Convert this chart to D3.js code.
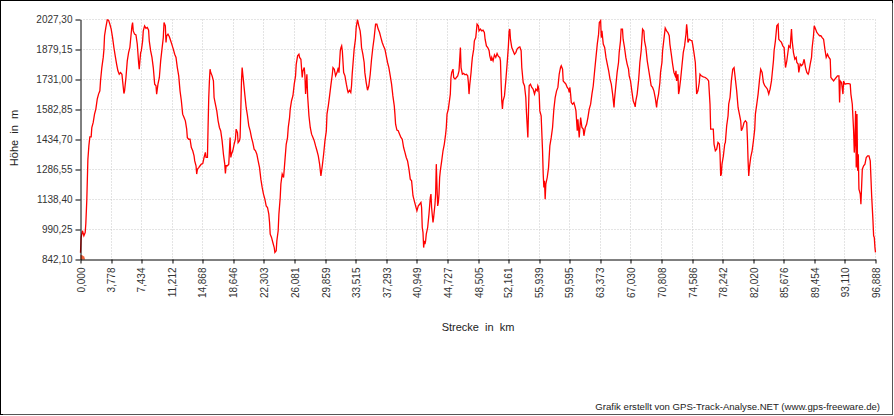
<!DOCTYPE html>
<html><head><meta charset="utf-8">
<script src="https://cdn.jsdelivr.net/npm/d3@7"></script>
<style>
html,body{margin:0;padding:0;background:#fff;}
svg{display:block;font-family:"Liberation Sans",Arial,sans-serif;}
</style></head>
<body><svg id="c" width="894" height="416"></svg>
<script>
// Elevation profile: [distance in km, elevation in m]
const profile = [
[0.00,875],[0.08,951],[0.24,984],[0.41,959],[0.57,975],[0.65,1020],[0.77,1138],[0.90,1336],[1.02,1403],[1.14,1448],[1.30,1448],[1.38,1494],[1.55,1519],[1.71,1560],[1.87,1585],[2.04,1634],[2.20,1659],[2.36,1675],[2.44,1724],[2.60,1790],[2.77,1840],[2.85,1876],[2.93,1947],[3.09,1988],[3.26,2026],[3.42,2024],[3.58,2004],[3.74,1980],[3.91,1938],[4.07,1889],[4.23,1848],[4.40,1807],[4.56,1774],[4.72,1757],[4.88,1765],[5.05,1757],[5.13,1724],[5.29,1662],[5.37,1675],[5.54,1741],[5.70,1823],[5.86,1864],[6.02,1889],[6.11,1930],[6.27,1996],[6.35,2012],[6.43,1971],[6.59,1955],[6.76,1951],[6.92,1905],[7.08,1815],[7.16,1782],[7.24,1823],[7.33,1864],[7.41,1872],[7.57,1922],[7.65,1971],[7.81,1996],[7.98,1984],[8.14,1988],[8.30,1975],[8.38,1922],[8.55,1872],[8.71,1840],[8.87,1790],[9.04,1708],[9.20,1700],[9.28,1659],[9.44,1708],[9.61,1741],[9.77,1823],[9.93,1881],[10.09,1938],[10.18,2012],[10.34,1996],[10.42,1914],[10.50,1947],[10.66,1955],[10.83,1942],[10.99,1922],[11.15,1902],[11.31,1881],[11.48,1856],[11.64,1840],[11.80,1790],[11.97,1749],[12.13,1675],[12.29,1626],[12.45,1560],[12.62,1543],[12.78,1527],[12.94,1486],[13.02,1444],[13.19,1436],[13.35,1436],[13.51,1395],[13.68,1379],[13.84,1354],[13.92,1329],[14.08,1305],[14.16,1264],[14.25,1288],[14.41,1296],[14.57,1305],[14.73,1313],[14.90,1316],[15.06,1346],[15.22,1371],[15.30,1346],[15.47,1346],[15.55,1502],[15.63,1642],[15.71,1724],[15.79,1782],[15.87,1765],[16.04,1749],[16.20,1724],[16.28,1642],[16.44,1609],[16.61,1576],[16.77,1527],[16.93,1494],[17.09,1477],[17.26,1428],[17.42,1362],[17.58,1313],[17.66,1267],[17.75,1305],[17.91,1305],[18.07,1313],[18.23,1444],[18.32,1346],[18.40,1362],[18.56,1379],[18.72,1411],[18.88,1436],[18.97,1486],[19.13,1469],[19.21,1419],[19.37,1428],[19.45,1444],[19.54,1585],[19.62,1724],[19.70,1790],[19.78,1757],[19.86,1724],[20.02,1659],[20.19,1593],[20.35,1552],[20.51,1502],[20.68,1477],[20.84,1444],[21.00,1419],[21.16,1387],[21.33,1379],[21.49,1362],[21.65,1329],[21.82,1296],[21.98,1239],[22.14,1198],[22.30,1165],[22.47,1140],[22.63,1107],[22.79,1099],[22.95,1066],[23.04,1025],[23.12,967],[23.28,951],[23.44,926],[23.61,901],[23.69,877],[23.85,885],[23.93,934],[24.09,984],[24.18,1066],[24.34,1148],[24.42,1215],[24.58,1264],[24.75,1247],[24.91,1329],[25.07,1411],[25.23,1444],[25.32,1494],[25.48,1543],[25.56,1585],[25.72,1626],[25.89,1651],[26.05,1708],[26.21,1749],[26.29,1806],[26.46,1848],[26.62,1856],[26.70,1840],[26.86,1831],[27.02,1741],[27.11,1774],[27.27,1790],[27.35,1749],[27.43,1659],[27.59,1757],[27.68,1651],[27.84,1552],[28.00,1494],[28.16,1461],[28.33,1444],[28.49,1428],[28.65,1403],[28.82,1379],[28.98,1354],[29.14,1313],[29.30,1255],[29.47,1305],[29.63,1362],[29.79,1428],[29.96,1477],[30.04,1560],[30.20,1601],[30.36,1651],[30.53,1708],[30.69,1757],[30.77,1790],[30.93,1782],[31.09,1749],[31.26,1765],[31.42,1790],[31.50,1765],[31.66,1872],[31.75,1889],[31.83,1897],[31.91,1872],[32.07,1765],[32.23,1749],[32.40,1708],[32.56,1675],
[32.62,1667],[32.78,1678],[32.94,1667],[33.03,1700],[33.11,1757],[33.27,1840],[33.35,1881],[33.51,1930],[33.60,1988],[33.76,2027],[33.92,1996],[34.08,1971],[34.17,1938],[34.25,1889],[34.41,1856],[34.57,1815],[34.65,1766],[34.82,1716],[34.98,1678],[35.14,1700],[35.31,1757],[35.47,1831],[35.63,1889],[35.79,1938],[35.96,2004],[36.12,2004],[36.28,1980],[36.45,1963],[36.61,1938],[36.77,1914],[36.93,1897],[37.10,1881],[37.26,1848],[37.42,1815],[37.58,1790],[37.75,1749],[37.91,1708],[38.07,1650],[38.24,1601],[38.32,1560],[38.40,1510],[38.56,1481],[38.72,1478],[38.89,1461],[39.05,1445],[39.21,1436],[39.38,1395],[39.54,1371],[39.70,1346],[39.86,1329],[40.03,1288],[40.19,1239],[40.35,1231],[40.52,1157],[40.68,1132],[40.84,1107],[41.00,1083],[41.17,1107],[41.33,1115],[41.49,1124],[41.57,1099],[41.65,1000],[41.74,976],[41.82,901],[41.90,934],[41.98,918],[42.06,934],[42.14,967],[42.31,1000],[42.47,1066],[42.55,1107],[42.63,1148],[42.71,1165],[42.79,1099],[42.88,1058],[42.96,1025],[43.04,1050],[43.20,1115],[43.28,1165],[43.36,1313],[43.45,1198],[43.53,1107],[43.61,1124],[43.69,1165],[43.77,1247],[43.85,1280],[44.02,1329],[44.18,1379],[44.34,1412],[44.50,1461],[44.58,1494],[44.67,1560],[44.83,1585],[44.91,1609],[45.07,1659],[45.15,1741],[45.24,1766],[45.40,1782],[45.48,1741],[45.64,1733],[45.81,1741],[45.97,1749],[46.13,1774],[46.30,1889],[46.38,1790],[46.54,1757],[46.70,1761],[46.86,1754],[47.03,1757],[47.19,1749],[47.27,1716],[47.35,1659],[47.43,1700],[47.60,1766],[47.68,1807],[47.76,1840],[47.92,1881],[48.00,1922],[48.17,1938],[48.33,2004],[48.49,1996],[48.57,1971],[48.74,1980],[48.90,1971],[49.06,1975],[49.22,1963],[49.31,1930],[49.47,1897],[49.63,1889],[49.80,1873],[49.88,1848],[50.04,1823],[50.12,1840],[50.28,1823],[50.45,1853],[50.61,1840],[50.77,1859],[50.93,1845],[51.10,1840],[51.18,1823],[51.26,1716],[51.34,1626],[51.42,1585],[51.50,1626],[51.67,1650],[51.83,1724],[51.99,1807],[52.15,1897],[52.24,1971],[52.32,1980],[52.40,1930],[52.56,1889],[52.72,1873],[52.89,1856],[53.05,1864],[53.21,1881],[53.38,1889],[53.54,1892],[53.70,1873],[53.78,1790],[53.95,1716],[54.11,1700],[54.27,1642],[54.35,1568],[54.43,1510],[54.52,1445],[54.60,1576],[54.68,1700],[54.84,1708],[55.00,1692],[55.17,1683],[55.33,1659],[55.49,1683],[55.66,1675],[55.74,1700],[55.82,1692],[55.90,1659],[55.98,1576],[56.14,1552],[56.31,1379],[56.39,1264],[56.47,1198],[56.55,1231],[56.63,1140],[56.71,1214],[56.88,1247],[57.04,1296],[57.20,1403],[57.37,1445],[57.53,1494],[57.69,1585],[57.85,1642],[58.02,1675],[58.18,1692],[58.34,1757],[58.50,1790],[58.59,1799],[58.75,1782],[58.83,1724],[58.99,1716],[59.16,1708],[59.32,1692],[59.48,1683],[59.56,1667],[59.64,1692],[59.73,1659],[59.81,1617],[59.97,1609],[60.13,1617],[60.29,1593],[60.38,1576],[60.54,1478],[60.62,1535],[60.78,1445],[60.95,1543],[61.11,1494],[61.27,1486],[61.35,1453],[61.52,1494],[61.68,1510],[61.84,1543],[62.00,1585],[62.17,1609],[62.33,1659],[62.49,1700],[62.66,1774],[62.82,1840],[62.98,1906],[63.14,1955],[63.23,2012],[63.39,2021],[63.47,1938],[63.55,1971],[63.71,1906],[63.88,1889],[64.04,1840],[64.20,1807],[64.37,1774],[64.53,1733],[64.69,1708],[64.85,1659],[65.02,1593],
[65.08,1634],[65.24,1700],[65.40,1766],[65.57,1815],[65.65,1864],[65.81,1922],[65.89,1980],[66.05,1980],[66.13,1930],[66.30,1889],[66.46,1840],[66.62,1807],[66.79,1782],[66.87,1749],[67.03,1724],[67.19,1675],[67.36,1626],[67.52,1609],[67.60,1596],[67.68,1626],[67.84,1659],[68.01,1724],[68.09,1766],[68.17,1815],[68.33,1873],[68.41,1922],[68.50,1980],[68.66,1971],[68.74,1922],[68.90,1889],[69.07,1823],[69.23,1782],[69.39,1741],[69.55,1700],[69.72,1692],[69.88,1675],[70.04,1642],[70.21,1593],[70.29,1626],[70.45,1659],[70.61,1716],[70.69,1766],[70.86,1815],[70.94,1873],[71.10,1930],[71.26,1985],[71.43,1971],[71.59,1963],[71.75,1947],[71.83,1906],[72.00,1856],[72.16,1807],[72.32,1766],[72.48,1749],[72.57,1774],[72.65,1724],[72.81,1757],[72.89,1659],[72.97,1675],[73.14,1733],[73.30,1799],[73.46,1864],[73.62,1897],[73.79,1955],[73.87,2004],[73.95,1971],[74.03,1914],[74.19,1930],[74.36,1925],[74.52,1922],[74.60,1906],[74.76,1864],[74.93,1815],[75.01,1741],[75.09,1659],[75.25,1675],[75.41,1716],[75.50,1757],[75.66,1749],[75.90,1744],[76.15,1741],[76.39,1733],[76.55,1724],[76.72,1609],[76.80,1486],[77.12,1486],[77.21,1412],[77.37,1379],[77.53,1387],[77.69,1420],[77.86,1412],[77.94,1362],[78.02,1255],[78.10,1264],[78.18,1313],[78.35,1354],[78.51,1412],[78.59,1420],[78.75,1502],[78.92,1552],[79.00,1609],[79.16,1642],[79.32,1724],[79.49,1782],[79.65,1790],[79.81,1733],[79.97,1675],[80.14,1593],[80.30,1560],[80.46,1527],[80.54,1478],[80.71,1494],[80.87,1519],[81.03,1527],[81.19,1519],[81.28,1436],[81.36,1329],[81.44,1255],[81.52,1296],[81.68,1346],[81.85,1379],[82.01,1428],[82.17,1486],[82.25,1560],[82.42,1609],[82.58,1659],[82.74,1724],[82.90,1782],[83.07,1766],[83.23,1716],[83.39,1700],[83.56,1692],[83.72,1683],[83.88,1659],[84.04,1683],[84.21,1724],[84.29,1757],[84.45,1823],[84.53,1873],[84.69,1922],[84.86,1996],[85.02,2004],[85.10,1930],[85.26,1922],[85.43,1914],[85.59,1897],[85.75,1889],[85.83,1840],[85.92,1790],[86.08,1823],[86.24,1873],[86.32,1897],[86.49,1889],[86.57,1938],[86.65,1980],[86.73,1922],[86.89,1864],[87.06,1831],[87.22,1840],[87.30,1815],[87.46,1807],[87.54,1766],[87.71,1807],[87.87,1799],[88.03,1807],[88.19,1831],[88.36,1790],[88.52,1766],[88.68,1757],[88.76,1766],[88.93,1807],[89.09,1840],[89.17,1889],[89.33,1947],[89.42,1996],[89.58,1980],[89.74,1963],[89.90,1955],[90.07,1947],[90.23,1947],[90.39,1938],[90.56,1930],[90.72,1881],[90.88,1840],[91.04,1856],[91.21,1840],[91.37,1831],[91.45,1741],[91.61,1733],[91.78,1724],[91.94,1733],[92.10,1741],[92.26,1749],[92.43,1749],[92.51,1617],[92.59,1724],[92.75,1716],[92.92,1659],[93.00,1724],[93.16,1708],[93.40,1711],[93.65,1711],[93.81,1708],[93.89,1659],[94.06,1609],[94.22,1478],[94.30,1370],[94.38,1428],[94.46,1576],[94.54,1296],[94.63,1560],[94.71,1280],[94.79,1362],[94.87,1189],[95.03,1165],[95.11,1115],[95.28,1288],[95.44,1305],[95.60,1313],[95.76,1346],[95.93,1354],[96.09,1354],[96.25,1329],[96.42,1157],[96.58,1033],[96.66,959],[96.74,951],[96.82,901],[96.888,877]
];

const xTicks = [0, 3.778, 7.434, 11.212, 14.868, 18.646, 22.303, 26.081, 29.859, 33.515, 37.293, 40.949, 44.727, 48.505, 52.161, 55.939, 59.595, 63.373, 67.030, 70.808, 74.586, 78.242, 82.020, 85.676, 89.454, 93.110, 96.888];
const yTicks = [842.10, 990.25, 1138.40, 1286.55, 1434.70, 1582.85, 1731.00, 1879.15, 2027.30];
const xTitle = "Strecke  in  km";
const yTitle = "Höhe  in  m";
const footer = "Grafik erstellt von GPS-Track-Analyse.NET (www.gps-freeware.de)";

const W = 894, H = 416;
const svg = d3.select("#c");
const x = d3.scaleLinear().domain([0, 96.888]).range([80.5, 875.5]);
const y = d3.scaleLinear().domain([842.10, 2027.30]).range([259.5, 19.5]);
const fx = v => d3.format(".3f")(v).replace(".", ",");
const fy = v => d3.format(".2f")(v).replace(".", ",");

// outer frame
svg.append("rect").attr("x",0.5).attr("y",0.5).attr("width",W-2).attr("height",H-2)
  .attr("fill","#fff").attr("stroke","#000").attr("stroke-width",1);
svg.append("line").attr("x1",W-1.5).attr("x2",W-1.5).attr("y1",3).attr("y2",H-1).attr("stroke","#555").attr("stroke-width",1);
svg.append("line").attr("x1",3).attr("x2",W-1).attr("y1",H-1.5).attr("y2",H-1.5).attr("stroke","#555").attr("stroke-width",1);

// grid
const grid = svg.append("g").attr("stroke","#c8c8c8").attr("stroke-width",1).attr("stroke-dasharray","1,2");
grid.selectAll("line.v").data(xTicks.slice(1)).join("line")
  .attr("x1", d => Math.round(x(d)-0.5)+0.5).attr("x2", d => Math.round(x(d)-0.5)+0.5)
  .attr("y1", y(2027.30)).attr("y2", y(842.10));
grid.selectAll("line.h").data(yTicks.slice(1)).join("line")
  .attr("y1", d => Math.round(y(d)-0.5)+0.5).attr("y2", d => Math.round(y(d)-0.5)+0.5)
  .attr("x1", x(0)).attr("x2", x(96.888));

// line
const clip = svg.append("clipPath").attr("id","pc").append("rect")
  .attr("x", x(0)).attr("y", y(2027.30)-2).attr("width", x(96.888)-x(0)+1).attr("height", y(842.10)-y(2027.30)+2);
svg.append("path").datum(profile)
  .attr("fill","none").attr("stroke","#ff0000").attr("stroke-width",1.3)
  .attr("stroke-linejoin","miter")
  .attr("d", d3.line().x(d => x(d[0])).y(d => y(d[1])));

// start marker
svg.append("circle").attr("cx", x(0)).attr("cy", y(842.10)).attr("r", 4.5)
  .attr("fill","#f0603a").attr("clip-path","url(#pc)");

// axes
const ax = svg.append("g").attr("transform", `translate(0,${y(842.10)})`)
  .call(d3.axisBottom(x).tickValues(xTicks).tickFormat(fx).tickSizeInner(4).tickSizeOuter(0));
ax.select(".domain").attr("stroke","#000");
ax.selectAll(".tick line").attr("stroke","#000");
ax.selectAll(".tick text").attr("transform","rotate(-90)").attr("text-anchor","end")
  .attr("x",-8).attr("y",0).attr("dy","0.35em")
  .attr("font-size",10).attr("fill","#333").attr("font-family","Liberation Sans, Arial, sans-serif");

const ay = svg.append("g").attr("transform", `translate(${x(0)},0)`)
  .call(d3.axisLeft(y).tickValues(yTicks).tickFormat(fy).tickSizeInner(5).tickSizeOuter(0));
ay.select(".domain").attr("stroke","#000");
ay.selectAll(".tick line").attr("stroke","#000");
ay.selectAll(".tick text").attr("x",-8).attr("font-size",10).attr("fill","#333")
  .attr("font-family","Liberation Sans, Arial, sans-serif");

// titles
svg.append("text").attr("x",478).attr("y",331).attr("text-anchor","middle")
  .attr("font-size",11).attr("fill","#222").style("white-space","pre").text(xTitle);
svg.append("text").attr("transform","translate(18,138) rotate(-90)").attr("text-anchor","middle")
  .attr("font-size",11).attr("fill","#222").style("white-space","pre").text(yTitle);
svg.append("text").attr("x",880).attr("y",410).attr("text-anchor","end")
  .attr("font-size",9.6).attr("fill","#222").text(footer);
</script></body></html>
